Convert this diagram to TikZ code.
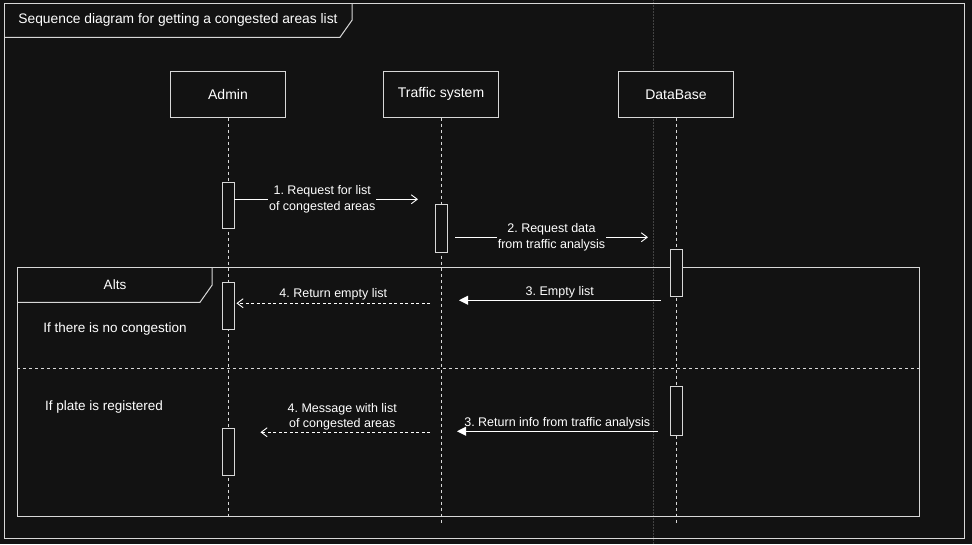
\documentclass[tikz,border=0pt]{standalone}
\usepackage{fontspec}
\setmainfont{Liberation Sans}
\usetikzlibrary{positioning,arrows.meta,calc}
\definecolor{bgcol}{HTML}{121212}
\definecolor{fgcol}{HTML}{D8D8D8}
\frenchspacing

\begin{document}
\begin{tikzpicture}[
  x=1pt, y=-1pt,
  every node/.style={text=white},
  actor/.style={draw=fgcol, line width=0.9pt, fill=bgcol, inner sep=0pt,
                minimum width=115pt, minimum height=46pt,
                font=\fontsize{14}{16}\selectfont},
  act/.style={draw=fgcol, line width=0.9pt, fill=bgcol, inner sep=0pt,
              minimum width=12pt, minimum height=47pt},
  life/.style={draw=fgcol, line width=0.9pt, dash pattern=on 3pt off 3pt},
  msg/.style={draw=white, line width=0.9pt, -{Straight Barb[length=6pt,width=9pt]}},
  ret/.style={msg, dash pattern=on 3pt off 2.5pt},
  rep/.style={draw=white, line width=0.9pt, -{Triangle[length=9pt,width=9pt]}},
  lbl/.style={font=\fontsize{12.5}{16}\selectfont, align=center, fill=bgcol, inner sep=1pt},
  cond/.style={font=\fontsize{13.5}{16}\selectfont}
]
  % background and frames
  \fill[bgcol] (0,0) rectangle (972,544);
  \draw[gray!45!bgcol, line width=0.5pt, densely dotted] (653,0) -- (653,544);
  \draw[fgcol, line width=1pt] (4,3) rectangle (964,538);
  \draw[fgcol, line width=1pt] (4,37) -- (340,37) -- (352,20) -- (352,3);
  \node[font=\fontsize{13.8}{16}\selectfont] (title) at (178,20) {Sequence diagram for getting a congested areas list};

  % lifelines
  \node[actor] (admin) at (228,94) {Admin};
  \node[actor] (traffic) at (441,94) {Traffic system};
  \node[actor] (db) at (676,94) {DataBase};
  \coordinate (adminEnd) at (228,518);
  \coordinate (trafficEnd) at (441,524);
  \coordinate (dbEnd) at (676,524);
  \draw[life] (admin) -- (adminEnd);
  \draw[life] (traffic) -- (trafficEnd);
  \draw[life] (db) -- (dbEnd);

  % alt frame
  \draw[fgcol, line width=1pt] (17,267) rectangle (919,516);
  \draw[fgcol, line width=1pt] (17,302) -- (200,302) -- (212,285) -- (212,267);
  \draw[fgcol, line width=1pt, dash pattern=on 3pt off 3pt] (17,368) -- (919,368);
  \node[cond] (alts) at (115,284) {Alts};
  \node[cond] (noCong) at (115,329) {If there is no congestion};
  \node[cond] (plate) at (104,407) {If plate is registered};

  % activations
  \node[act, minimum height=46pt] (a1) at (228,205) {};
  \node[act, minimum height=48pt] (t1) at (441,228) {};
  \node[act] (d1) at (676,272.5) {};
  \node[act] (a2) at (228,305.5) {};
  \node[act, minimum height=49pt] (d2) at (676,410.5) {};
  \node[act] (a3) at (228,451.5) {};

  % messages
  \coordinate (m1e) at (418,199);
  \draw[msg] (a1.east |- m1e) -- node[lbl, xshift=-4pt] {1. Request for list\\of congested areas} (m1e);
  \coordinate (m2s) at (455,237);
  \coordinate (m2e) at (648,237);
  \draw[msg] (m2s) -- node[lbl] {2. Request data\\from traffic analysis} (m2e);
  \coordinate (m3e) at (459,300);
  \draw[rep] ($(d1.west |- m3e)+(-9,0)$) -- node[lbl, above=1pt, fill=none] {3. Empty list} (m3e);
  \coordinate (m4s) at (430,303);
  \draw[ret] (m4s) -- node[lbl, above=2pt, fill=none] {4. Return empty list} ($(a2.east |- m4s)+(2,0)$);
  \coordinate (m5e) at (457,431);
  \draw[rep] ($(d2.west |- m5e)+(-12,0)$) -- node[lbl, above=1pt, fill=none] {3. Return info from traffic analysis} (m5e);
  \coordinate (m6s) at (430,432);
  \draw[ret] (m6s) -- node[lbl, above=1pt, fill=none, font=\fontsize{12.5}{15}\selectfont, xshift=-3pt] {4. Message with list\\of congested areas} ($(a3.east |- m6s)+(26,0)$);
\end{tikzpicture}
\end{document}
